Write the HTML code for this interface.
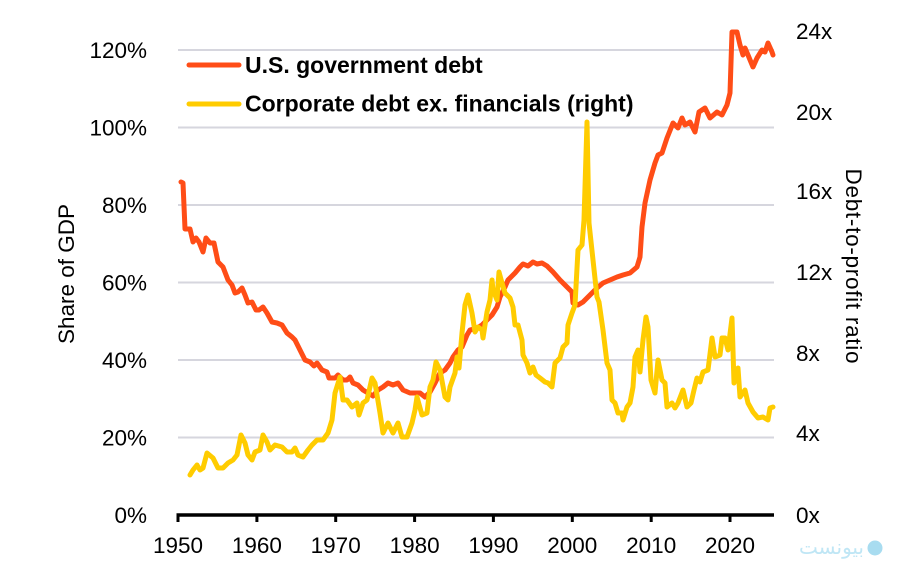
<!DOCTYPE html>
<html><head><meta charset="utf-8"><style>
html,body{margin:0;padding:0;background:#fff;}
svg{display:block;font-family:"Liberation Sans",Arial,sans-serif;}
</style></head><body>
<svg width="903" height="576" viewBox="0 0 903 576" xmlns="http://www.w3.org/2000/svg">
<rect width="903" height="576" fill="#fff"/>
<g stroke="#d6d6de" stroke-width="2">
<line x1="178" y1="50" x2="774" y2="50"/>
<line x1="178" y1="127.5" x2="774" y2="127.5"/>
<line x1="178" y1="205" x2="774" y2="205"/>
<line x1="178" y1="282.5" x2="774" y2="282.5"/>
<line x1="178" y1="360" x2="774" y2="360"/>
<line x1="178" y1="437.5" x2="774" y2="437.5"/>
</g>
<g font-size="22.5" fill="#000" text-anchor="end">
<text x="147" y="58">120%</text>
<text x="147" y="135.5">100%</text>
<text x="147" y="213">80%</text>
<text x="147" y="290.5">60%</text>
<text x="147" y="368">40%</text>
<text x="147" y="445.5">20%</text>
<text x="147" y="523">0%</text>
</g>
<g font-size="22.5" fill="#000">
<text x="796" y="39">24x</text>
<text x="796" y="120">20x</text>
<text x="796" y="199">16x</text>
<text x="796" y="280">12x</text>
<text x="796" y="361">8x</text>
<text x="796" y="441">4x</text>
<text x="796" y="523">0x</text>
</g>
<g font-size="22.5" fill="#000" text-anchor="middle">
<text x="178" y="553">1950</text>
<text x="256.9" y="553">1960</text>
<text x="335.7" y="553">1970</text>
<text x="414.6" y="553">1980</text>
<text x="493.4" y="553">1990</text>
<text x="572.3" y="553">2000</text>
<text x="651.2" y="553">2010</text>
<text x="730" y="553">2020</text>
</g>
<text font-size="22.5" fill="#000" text-anchor="middle" transform="translate(74,274) rotate(-90)">Share of GDP</text>
<text font-size="22.5" fill="#000" text-anchor="middle" textLength="195" lengthAdjust="spacing" transform="translate(846,266) rotate(90)">Debt-to-profit ratio</text>

<polyline fill="none" stroke="#ff4d17" stroke-width="5" stroke-linejoin="round" stroke-linecap="round" points="181,182 183,183 185,229 190,229 193,242 196,238 199,242 203,252 206,238 210,243 214,243 218,262 223,267 228,280 232,285 235,293 238,292 242,288 245,295 248,303 252,302 256,310 259,310 263,307 267,313 272,322 277,323 282,325 287,333 292,337 295,340 300,350 305,360 310,362 314,366 317,363 322,370 327,372 329,378 335,378 338,375 343,380 347,380 350,377 353,383 358,385 363,390 368,393 373,396 378,390 383,387 388,383 393,385 398,383 403,390 410,393 420,393 425,397 430,392 435,383 440,373 445,370 450,363 453,357 458,350 462,347 467,335 470,330 477,328 482,325 487,320 492,315 497,307 500,297 505,287 508,280 515,273 520,267 523,264 528,266 533,262 537,264 542,263 547,266 553,272 560,280 567,287 572,292 573,303 578,305 583,302 590,295 597,288 603,283 610,280 617,277 623,275 630,273 637,267 640,257 642,227 645,203 650,180 655,163 658,155 662,153 667,138 673,123 678,128 682,118 685,125 690,122 695,132 699,112 705,108 710,118 717,112 722,115 727,105 730,93 732,32 737,32 740,45 743,55 745,48 748,55 753,67 757,58 762,50 765,52 768,43 772,52 773,55"/>

<polyline fill="none" stroke="#ffcc00" stroke-width="5" stroke-linejoin="round" stroke-linecap="round" points="190,475 193,470 197,465 200,470 203,468 207,453 213,458 218,468 223,468 228,463 233,460 237,455 241,435 245,443 248,455 252,460 255,452 260,450 263,435 267,442 270,450 275,445 282,447 287,452 292,452 295,448 298,455 303,457 308,450 312,445 317,440 323,440 328,433 332,420 335,393 340,377 343,400 347,400 352,407 357,403 359,415 363,403 367,400 372,378 375,383 380,413 383,433 388,423 393,433 398,423 402,437 407,437 412,423 415,410 417,397 422,415 427,413 430,387 433,380 436,362 440,370 445,397 448,400 450,387 455,373 457,357 459,368 462,333 465,305 468,295 472,313 475,332 478,327 482,330 483,338 487,312 490,300 492,280 493,290 497,300 499,272 502,283 505,293 510,298 513,307 515,325 518,325 522,340 523,355 527,363 530,373 533,367 536,375 540,378 545,382 548,383 552,387 555,363 560,358 563,347 567,343 568,325 572,313 575,305 578,250 582,245 584,220 587,122 589,223 593,260 597,297 599,302 603,330 607,363 610,370 612,400 615,403 618,413 622,413 623,420 627,407 630,403 633,387 635,357 638,350 640,372 643,340 646,317 648,327 651,380 655,393 658,360 662,380 665,383 667,407 672,403 675,408 678,403 683,390 687,407 691,403 694,390 697,378 700,382 703,372 708,370 712,338 715,357 720,355 722,338 725,338 728,350 732,318 734,383 738,368 740,397 745,390 748,403 753,412 758,418 763,417 768,420 770,408 773,407"/>

<g stroke="#000" stroke-width="3">
<line x1="176.5" y1="515" x2="774" y2="515" stroke-width="3.5"/>
<line x1="178" y1="515" x2="178" y2="522"/>
<line x1="256.9" y1="515" x2="256.9" y2="522"/>
<line x1="335.7" y1="515" x2="335.7" y2="522"/>
<line x1="414.6" y1="515" x2="414.6" y2="522"/>
<line x1="493.4" y1="515" x2="493.4" y2="522"/>
<line x1="572.3" y1="515" x2="572.3" y2="522"/>
<line x1="651.2" y1="515" x2="651.2" y2="522"/>
<line x1="730" y1="515" x2="730" y2="522"/>
</g>

<line x1="189" y1="65" x2="239" y2="65" stroke="#ff4d17" stroke-width="5" stroke-linecap="round"/>
<line x1="189" y1="104" x2="239" y2="104" stroke="#ffcc00" stroke-width="5" stroke-linecap="round"/>
<g font-size="23" font-weight="bold" fill="#000">
<text x="245" y="73">U.S. government debt</text>
<text x="245" y="111.5">Corporate debt ex. financials (right)</text>
</g>

<text x="864" y="554" font-size="20" fill="#bfe6f5" text-anchor="end" font-family="'DejaVu Sans',sans-serif">بیونست</text>
<circle cx="875" cy="548" r="7.5" fill="#a8dcf0"/>
</svg>
</body></html>
